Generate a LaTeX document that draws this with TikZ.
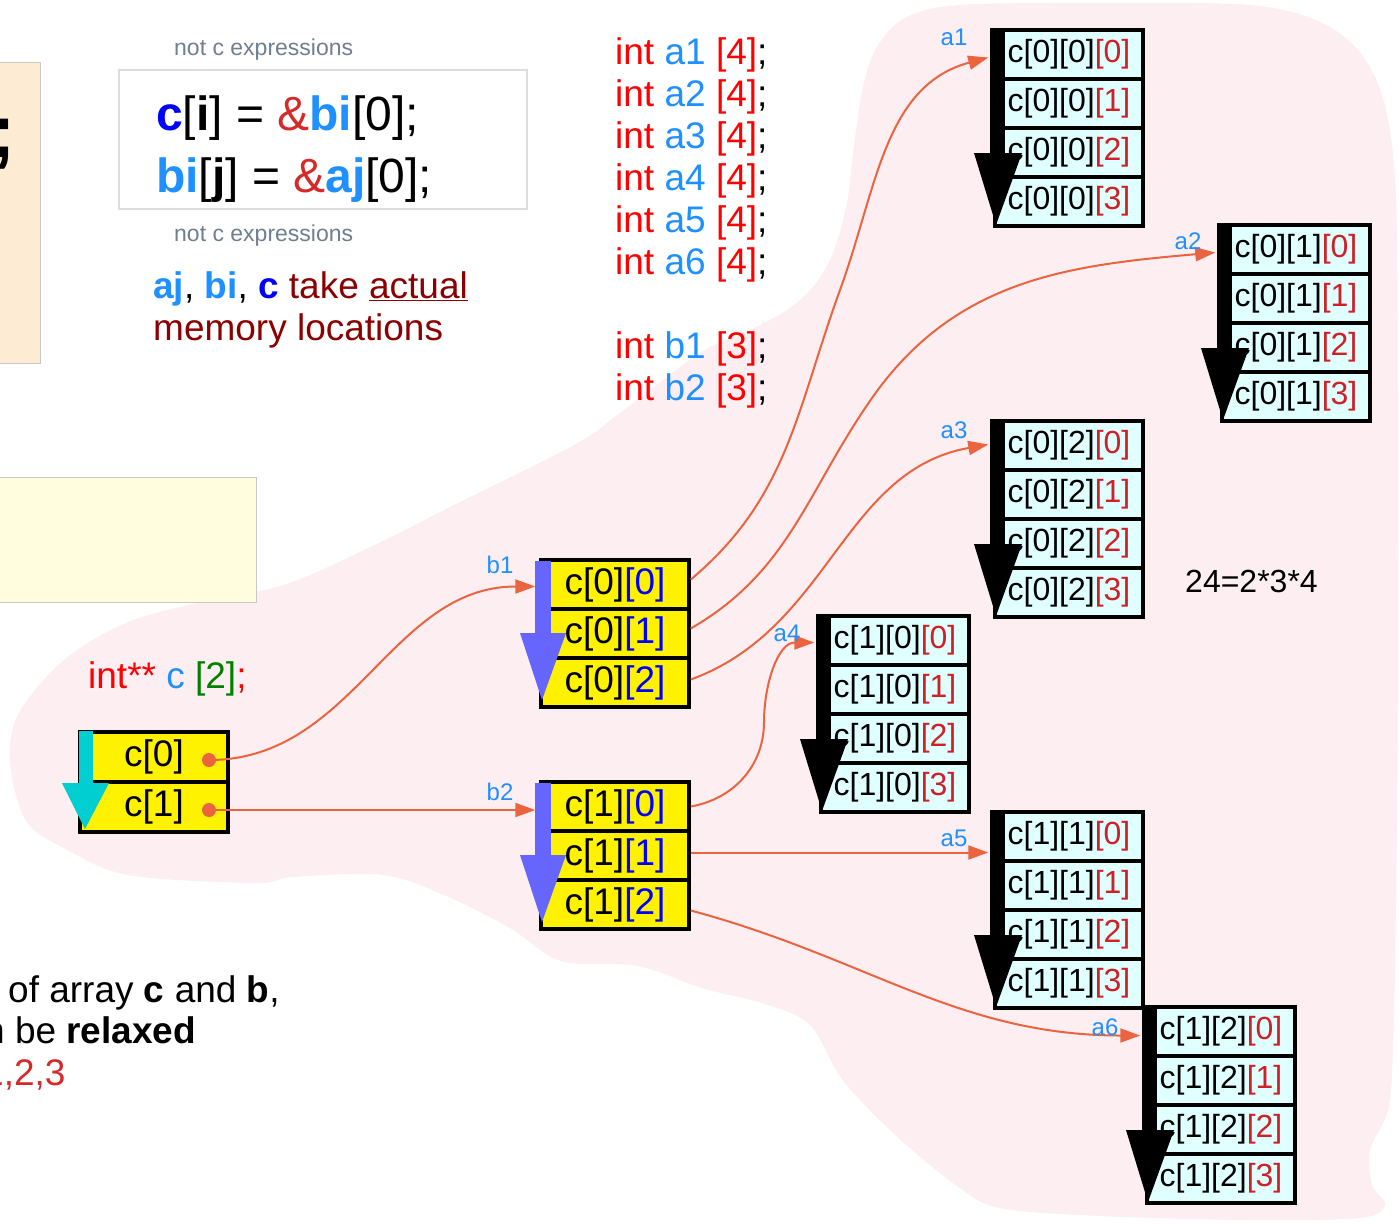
\documentclass[tikz,border=0pt]{standalone}
\usepackage{fontspec}
\setmainfont{Liberation Sans}
\usetikzlibrary{arrows.meta,calc}
\definecolor{dblue}{HTML}{1E90FF}
\definecolor{cblue}{HTML}{0000FF}
\definecolor{ampred}{HTML}{D42A2A}
\definecolor{ired}{HTML}{D01F26}
\definecolor{declred}{HTML}{FF0000}
\definecolor{dred}{HTML}{8B0000}
\definecolor{notgray}{HTML}{6E7F90}
\definecolor{dgreen}{HTML}{008000}
\definecolor{acyan}{HTML}{E0FFFF}
\definecolor{cyanarrow}{HTML}{00CED1}
\definecolor{barrow}{HTML}{6666FF}
\definecolor{connc}{HTML}{EB6440}
\definecolor{blobpink}{HTML}{FDEEF2}
\definecolor{peach}{HTML}{FDEBD3}
\definecolor{lyellow}{HTML}{FFFDDE}
\definecolor{boxgray}{HTML}{C8C8C8}
\definecolor{codegray}{HTML}{DDDDDD}
\tikzset{
  conn/.style={draw=connc, line width=2pt, -{Triangle[length=20pt,width=14pt]}},
  acell/.style={draw=black, line width=3.5pt, fill=acyan, minimum width=148pt, minimum height=49pt, inner sep=0pt, font=\fontsize{32}{38}\selectfont},
  bcell/.style={draw=black, line width=3.5pt, fill=yellow, minimum width=148pt, minimum height=49pt, inner sep=0pt, font=\fontsize{37}{44}\selectfont},
  ccell/.style={draw=black, line width=3.5pt, fill=yellow, minimum width=148pt, minimum height=50pt, inner sep=0pt, font=\fontsize{37}{44}\selectfont},
  cdot/.style={circle, fill=connc, minimum size=14pt, inner sep=0pt},
  lbl/.style={text=dblue, font=\fontsize{24}{28}\selectfont, inner sep=0pt},
  decl/.style={anchor=base west, inner sep=0pt, font=\fontsize{37}{44}\selectfont},
  notc/.style={anchor=base west, inner sep=0pt, text=notgray, font=\fontsize{23}{28}\selectfont},
  codetxt/.style={anchor=base west, inner sep=0pt, font=\fontsize{48}{56}\selectfont},
  bodytxt/.style={anchor=base west, inner sep=0pt, font=\fontsize{37}{44}\selectfont},
}
\newcommand\mkabox[5]{%
  \foreach \k in {0,1,2,3}{%
    \node[acell] (#1r\k) at ({#2+74},{#3+24.5+49*\k}) {c[#4][#5]\textcolor{ired}{[\k]}};
  }%
  \fill[black] ({#2-5},{#3-2}) rectangle ({#2+10},{#3+123});
  \fill[black] ({#2-21},{#3+123}) -- ({#2+27},{#3+123}) -- ({#2+1},{#3+195}) -- cycle;
}
\newcommand\mkbbox[4]{%
  \foreach \k in {0,1,2}{%
    \node[bcell] (#1r\k) at ({#2+74},{#3+24.5+49*\k}) {c[#4]\textcolor{cblue}{[\k]}};
  }%
  \fill[barrow] ({#2-6},{#3+1}) rectangle ({#2+10},{#3+73});
  \fill[barrow] ({#2-21},{#3+73}) -- ({#2+25},{#3+73}) -- ({#2+1},{#3+140}) -- cycle;
}
\begin{document}
\begin{tikzpicture}[x=1pt,y=-1pt]
\useasboundingbox (0,0) rectangle (1399,1223);
\clip (0,0) rectangle (1399,1223);
\fill[white] (0,0) rectangle (1399,1223);
% pink blob
\fill[blobpink] plot[smooth cycle, tension=0.55] coordinates {
 (620,413) (700,353) (750,330) (787,310) (813,287) (833,253) (847,203) (853,153)
 (863,87) (877,47) (905,18) (960,5) (1100,3) (1250,5) (1320,22) (1362,55) (1386,110)
 (1396,200) (1398,400) (1398,700) (1396,900) (1393,1050) (1388,1110) (1370,1150)
 (1372,1185) (1385,1205) (1360,1218) (1250,1220) (1100,1216) (1000,1208) (957,1186)
 (893,1133) (842,1079) (810,1025) (765,1004) (702,988) (638,966) (561,961) (510,928)
 (446,896) (383,875) (293,877) (255,883) (128,875) (64,848) (26,821) (10,762)
 (19,713) (64,660) (128,622) (210,600) (287,584) (383,541) (446,509) (574,445)};
% left boxes
\node[draw=boxgray, line width=1pt, fill=peach, minimum width=46pt, minimum height=300pt, inner sep=0pt] (peach) at (17,213) {};
\node[anchor=base west, inner sep=0pt, font=\fontsize{76}{90}\selectfont\bfseries] (semi) at (-10,157) {;};
\node[draw=boxgray, line width=1pt, fill=lyellow, minimum width=262pt, minimum height=125pt, inner sep=0pt] (ybox) at (125,539.5) {};
% code box
\node[draw=codegray, line width=1.5pt, fill=white, minimum width=408pt, minimum height=139pt, inner sep=0pt] (code) at (323,139.5) {};
\node[notc] (notc1) at (174,56) {not c expressions};
\node[notc] (notc2) at (174,241) {not c expressions};
\node[codetxt] (line1) at (156,130) {\textcolor{cblue}{\textbf{c}}[\textbf{i}] = \textcolor{ampred}{\&}\textcolor{dblue}{\textbf{bi}}[0];};
\node[codetxt] (line2) at (156,192) {\textcolor{dblue}{\textbf{bi}}[\textbf{j}] = \textcolor{ampred}{\&}\textcolor{dblue}{\textbf{aj}}[0];};
\node[bodytxt] (take) at (153,298) {\textcolor{dblue}{\textbf{aj}}, \textcolor{dblue}{\textbf{bi}}, \textcolor{cblue}{\textbf{c}} \textcolor{dred}{take \underline{actual}}};
\node[bodytxt, text=dred] (memloc) at (153,340) {memory locations};
% declarations
\foreach \n/\yy in {1/64,2/106,3/148,4/190,5/232,6/274}{
  \node[decl] (da\n) at (615,\yy) {\textcolor{declred}{int} \textcolor{dblue}{a\n} \textcolor{declred}{[4]};};
}
\foreach \n/\yy in {1/358,2/400}{
  \node[decl] (db\n) at (615,\yy) {\textcolor{declred}{int} \textcolor{dblue}{b\n} \textcolor{declred}{[3]};};
}
\node[decl] (dc) at (88,688) {\textcolor{declred}{int**} \textcolor{dblue}{c} \textcolor{dgreen}{[2]}\textcolor{declred}{;}};
\node[bodytxt] (prod) at (1185,592) {\fontsize{32}{38}\selectfont 24=2*3*4};
% bottom-left text
\node[bodytxt] (bt1) at (8,1002) {of array \textbf{c} and \textbf{b},};
\node[bodytxt] (bt2) at (-16,1043) {n be \textbf{relaxed}};
\node[bodytxt, text=ampred] (bt3) at (-17,1085) {1,2,3};
% c box
\node[ccell] (c0) at (154,757) {c[0]};
\node[ccell] (c1) at (154,807) {c[1]};
\fill[cyanarrow] (79,731) rectangle (93,783);
\fill[cyanarrow] (62,783) -- (109,783) -- (85,829) -- cycle;
\node[cdot] (d0) at (209,760) {};
\node[cdot] (d1) at (209,810) {};
% b boxes
\mkbbox{b1}{541}{560}{0}
\mkbbox{b2}{541}{782}{1}
% a boxes
\mkabox{a1}{995}{30}{0}{0}
\mkabox{a2}{1222}{225}{0}{1}
\mkabox{a3}{995}{421}{0}{2}
\mkabox{a4}{821}{616}{1}{0}
\mkabox{a5}{995}{812}{1}{1}
\mkabox{a6}{1147}{1007}{1}{2}
% intermediate points
\coordinate (m1) at (840,290);
\coordinate (m2) at (872,398);
\coordinate (m4) at (764,722);
% connectors
\draw[conn] (d0.center) to[out=0,in=180] ($(b1r0.west)+(-4,2)$);
\draw[conn] (d1.center) -- ($(d1.center -| b2r0.west)+(-4,0)$);
\draw[conn] ($(b1r0.east)+(0,-5)$) to[out=40,in=250] (m1) to[out=70,in=195] ($(a1r0.west)+(-5,3)$);
\draw[conn] ($(b1r1.east)+(0,-5)$) to[out=30,in=235] (m2) to[out=55,in=185] ($(a2r0.west)+(-5,3)$);
\draw[conn] ($(b1r2.east)+(0,-3)$) to[out=20,in=190] ($(a3r0.west)+(-5,-1)$);
\draw[conn] (b2r0.east) to[out=10,in=270] (m4) to[out=90,in=180] ($(a4r0.west)+(-5,2)$);
\draw[conn] ($(b2r1.east)+(0,-3)$) -- ($(b2r1.east -| a5r0.west)+(-5,-3)$);
\draw[conn] ($(b2r2.east)+(0,6)$) to[out=-15,in=180] ($(a6r0.west)+(-5,4)$);
% labels
\node[lbl] (lb1) at (500,565) {b1};
\node[lbl] (lb2) at (500,792) {b2};
\node[lbl] (la1) at (954,37) {a1};
\node[lbl] (la2) at (1188,241) {a2};
\node[lbl] (la3) at (954,430) {a3};
\node[lbl] (la4) at (787,633) {a4};
\node[lbl] (la5) at (954,838) {a5};
\node[lbl] (la6) at (1105,1027) {a6};
\end{tikzpicture}
\end{document}
